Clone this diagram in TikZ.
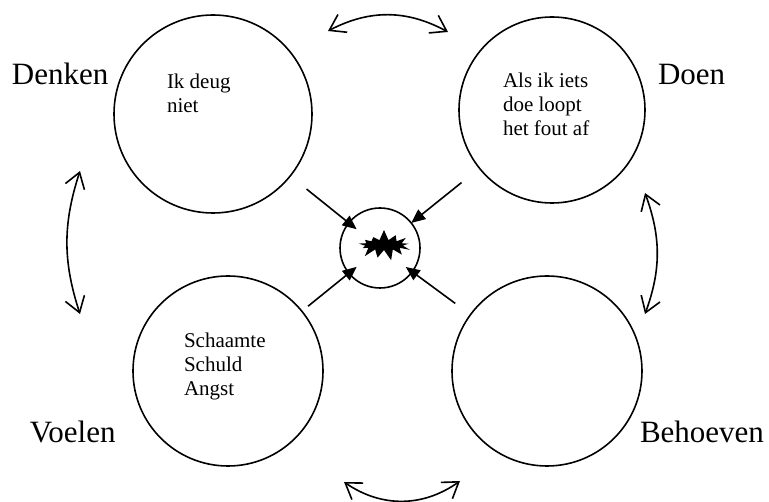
\documentclass[tikz,border=0pt]{standalone}
\usepackage{fontspec}
\setmainfont{Liberation Serif}
\usetikzlibrary{arrows.meta,shapes.symbols}

\begin{document}
\begin{tikzpicture}[x=1pt,y=-1pt,
  every node/.style={inner sep=0pt,outer sep=0pt},
  ring/.style={draw,circle,line width=1.6pt},
  corner/.style={font=\fontsize{31}{36}\selectfont,anchor=base west},
  thought/.style={font=\fontsize{21}{24}\selectfont,anchor=north west,align=left},
  push/.style={line width=1.6pt,-{Triangle[length=14pt,width=12pt]}},
  swing/.style={line width=1.6pt,{Straight Barb[length=15pt,width=20pt]}-{Straight Barb[length=15pt,width=20pt]}}]
  \useasboundingbox (0,0) rectangle (769,502);

  \node [ring,minimum size=198pt] (denken) at (213,114) {};
  \node [ring,minimum size=186pt] (doen) at (552,110) {};
  \node [ring,minimum size=190pt] (voelen) at (228,371) {};
  \node [ring,minimum size=190pt] (behoeven) at (547,371) {};
  \node [ring,minimum size=80pt] (kern) at (380,248) {};
  \node [starburst,fill=black,minimum width=60pt,minimum height=32pt,
         starburst points=13,starburst point height=11pt,random starburst=7] (knal) at (384,245) {};

  \node [corner] (lbl-denken) at (12,85) {Denken};
  \node [corner] (lbl-doen) at (658,85) {Doen};
  \node [corner] (lbl-voelen) at (30,443) {Voelen};
  \node [corner] (lbl-behoeven) at (640,443) {Behoeven};

  \node [thought] (txt-denken) at (167,74) {Ik deug\\niet};
  \node [thought] (txt-doen) at (503,73) {Als ik iets\\doe loopt\\het fout af};
  \node [thought] (txt-voelen) at (184,333) {Schaamte\\Schuld\\Angst};

  \coordinate (top1) at (328,31);
  \coordinate (top2) at (448,32);
  \coordinate (left1) at (80,171);
  \coordinate (left2) at (80,314);
  \coordinate (right1) at (645,193);
  \coordinate (right2) at (645,314);
  \coordinate (bot1) at (344,482);
  \coordinate (bot2) at (460,481);

  \draw [swing] (top1) to [bend left=28] (top2);
  \draw [swing] (left1) to [bend right=18] (left2);
  \draw [swing] (right1) to [bend left=20] (right2);
  \draw [swing] (bot1) to [bend right=35] (bot2);

  \draw [push,shorten <=21pt,shorten >=-10pt] (denken) -- (kern);
  \draw [push,shorten <=23pt,shorten >=0pt] (doen) -- (kern);
  \draw [push,shorten <=8pt,shorten >=-10pt] (voelen) -- (kern);
  \draw [push,shorten <=19pt,shorten >=-8pt] (behoeven) -- (kern);
\end{tikzpicture}
\end{document}
